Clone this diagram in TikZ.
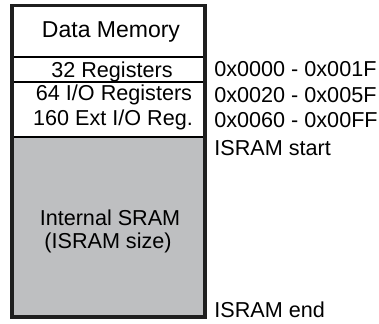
\documentclass[tikz,border=0pt]{standalone}
\usepackage{fontspec}
\setmainfont{Liberation Sans}

\begin{document}
\begin{tikzpicture}[x=0.5pt, y=-0.5pt]

        \definecolor{sramgray}{RGB}{190,191,193}
        \tikzstyle{cell}=[
            draw = black,
            line width = 0.7pt
        ]
        \tikzstyle{frame}=[
            draw = black!88,
            line width = 1.8pt
        ]
        \tikzset{l/.style={font=\fontsize{10.8}{12}\selectfont, inner sep=0pt}}
        \tikzset{addr/.style={l, anchor=base west}}

        \useasboundingbox (0,0) rectangle (379,323);

        % memory blocks
        \fill[sramgray] (12,137) rectangle (205,317);
        \draw[cell] (12,57) -- (205,57);
        \draw[cell] (12,82) -- (205,82);
        \draw[cell] (12,137) -- (205,137);
        \draw[frame] (12,5.5) rectangle (205,317);

        % block names
        \node[l, anchor=base, font=\fontsize{11.5}{13}\selectfont] (title) at (111,37) {Data Memory};
        \node[l, anchor=base] (regs) at (112,77) {32 Registers};
        \node[l, anchor=base] (io) at (114,100) {64 I/O Registers};
        \node[l, anchor=base] (extio) at (113,125) {160 Ext I/O Reg.};
        \node[l, anchor=base] (sram) at (110,225) {Internal SRAM};
        \node[l, anchor=base] (size) at (108,248) {(ISRAM size)};

        % addresses
        \node[addr] (a0) at (214,76) {0x0000 - 0x001F};
        \node[addr] (a1) at (214,102) {0x0020 - 0x005F};
        \node[addr] (a2) at (214,127) {0x0060 - 0x00FF};
        \node[addr] (start) at (214,155) {ISRAM start};
        \node[addr] (end) at (214,317) {ISRAM end};
    \end{tikzpicture}
\end{document}
